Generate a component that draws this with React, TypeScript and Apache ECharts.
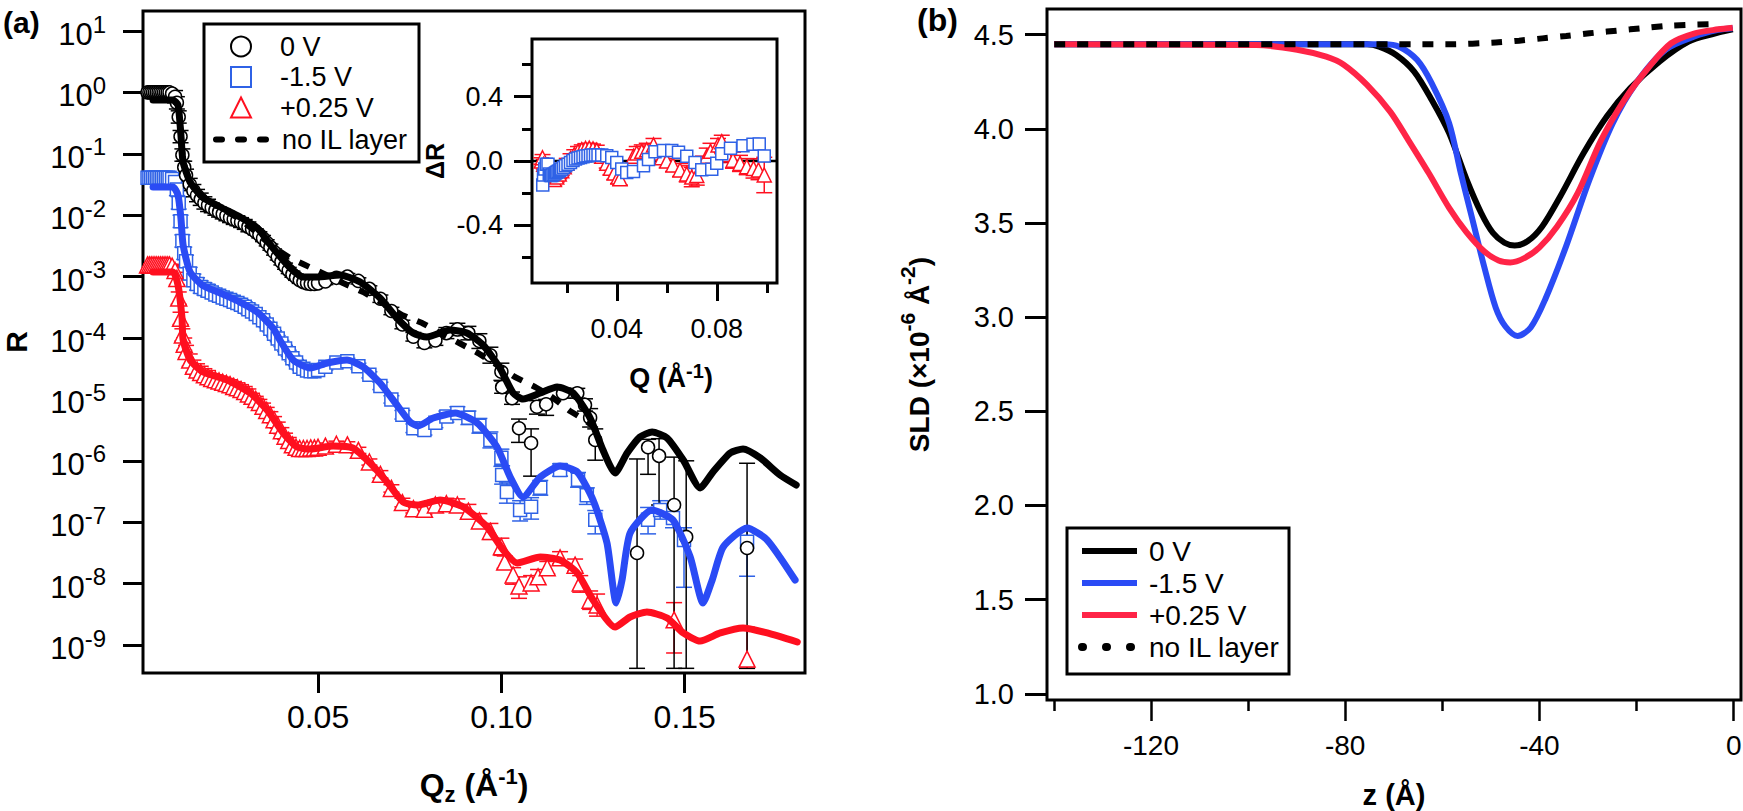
import * as echarts from 'echarts';
import { useEffect, useRef } from 'react';

const FONT = '"Liberation Sans", Arial, sans-serif';
const BLACK = '#000000';
const MARK_BLUE = '#2f62e6';
const MARK_RED = '#ff1020';
const FIT_BLUE = '#2a4bf5';
const FIT_RED = '#ff0f1f';
const SLD_RED = '#ff2447';

// ---- panel (a): reflectivity, R given as log10(R) ----
const qShared = [
  0.0035, 0.004, 0.0045, 0.005, 0.0055, 0.006, 0.0065, 0.007, 0.0075, 0.008, 0.0085, 0.009, 0.0095, 0.0102,
  0.011, 0.0115, 0.012, 0.0125, 0.013, 0.0135, 0.014, 0.015,
  0.016, 0.017, 0.018, 0.019, 0.02, 0.021, 0.022, 0.023, 0.024, 0.025, 0.026, 0.027,
  0.028, 0.029, 0.03, 0.031, 0.032, 0.033, 0.034, 0.035, 0.036, 0.037, 0.038, 0.039,
  0.04, 0.041, 0.042, 0.043, 0.044, 0.045, 0.046, 0.047, 0.048, 0.049, 0.05,
  0.052, 0.055, 0.058, 0.061, 0.064, 0.067, 0.07, 0.073, 0.076, 0.079, 0.082, 0.085, 0.088, 0.091, 0.094, 0.097, 0.1,
];
const errShared = [
  0.01, 0.01, 0.01, 0.01, 0.01, 0.01, 0.01, 0.01, 0.01, 0.01, 0.01, 0.01, 0.01, 0.01,
  0.1, 0.1, 0.1, 0.1, 0.1, 0.1, 0.1, 0.1,
  0.1, 0.1, 0.1, 0.1, 0.1, 0.08, 0.08, 0.08, 0.08, 0.08, 0.08, 0.08,
  0.08, 0.08, 0.08, 0.08, 0.05, 0.05, 0.05, 0.05, 0.05, 0.05, 0.05, 0.05,
  0.05, 0.05, 0.05, 0.05, 0.05, 0.05, 0.05, 0.05, 0.05, 0.05, 0.05,
  0.05, 0.05, 0.05, 0.05, 0.05, 0.06, 0.06, 0.07, 0.07, 0.08, 0.08, 0.09, 0.1, 0.11, 0.12, 0.13, 0.14,
];
const blackLow = [
  0, 0, 0, 0, 0, 0, 0, 0, 0, 0, 0, 0, 0, -0.02,
  -0.07, -0.17, -0.4, -0.72, -1.02, -1.22, -1.35, -1.5,
  -1.6, -1.68, -1.74, -1.8, -1.84, -1.88, -1.92, -1.95, -1.98, -2.01, -2.04, -2.07,
  -2.09, -2.12, -2.15, -2.19, -2.23, -2.27, -2.32, -2.38, -2.45, -2.52, -2.6, -2.68,
  -2.76, -2.83, -2.9, -2.96, -3.01, -3.06, -3.09, -3.11, -3.12, -3.12, -3.11,
  -3.08, -3.02, -3.0, -3.07, -3.2, -3.36, -3.56, -3.78, -3.98, -4.08, -4.04, -3.92, -3.86, -3.92, -4.05, -4.28, -4.55,
];
const blueLow = [
  -1.39, -1.39, -1.39, -1.39, -1.39, -1.39, -1.39, -1.39, -1.39, -1.39, -1.39, -1.39, -1.39, -1.41,
  -1.46, -1.58, -1.8, -2.1, -2.42, -2.62, -2.75, -2.95,
  -3.06, -3.12, -3.17, -3.2, -3.23, -3.26, -3.29, -3.31, -3.34, -3.36, -3.38, -3.41,
  -3.43, -3.46, -3.49, -3.53, -3.57, -3.61, -3.66, -3.71, -3.78, -3.85, -3.93, -4.01,
  -4.09, -4.17, -4.25, -4.33, -4.4, -4.47, -4.5, -4.53, -4.54, -4.54, -4.52,
  -4.47, -4.4, -4.38, -4.46, -4.6, -4.78, -5.0, -5.25, -5.47, -5.5, -5.38, -5.28, -5.22, -5.3, -5.43, -5.66, -5.95,
];
const redLow = [
  -2.81, -2.81, -2.81, -2.81, -2.81, -2.81, -2.81, -2.81, -2.81, -2.81, -2.81, -2.81, -2.81, -2.83,
  -2.9, -3.03, -3.35, -3.68, -3.95, -4.1, -4.22, -4.36,
  -4.46, -4.52, -4.56, -4.6, -4.63, -4.66, -4.68, -4.7, -4.72, -4.74, -4.76, -4.79,
  -4.81, -4.84, -4.87, -4.91, -4.95, -5.0, -5.05, -5.11, -5.18, -5.25, -5.33, -5.42,
  -5.51, -5.6, -5.67, -5.74, -5.78, -5.8, -5.8, -5.8, -5.79, -5.79, -5.78,
  -5.76, -5.73, -5.74, -5.83, -6.02, -6.22, -6.45, -6.68, -6.78, -6.79, -6.72, -6.7, -6.72, -6.82, -6.98, -7.15, -7.4,
];

const qBlackHigh = [0.1002, 0.1029, 0.1048, 0.1081, 0.1097, 0.1122, 0.1168, 0.1207, 0.1228, 0.1242, 0.1256, 0.137, 0.14, 0.143, 0.1471, 0.1504, 0.167];
const blackHigh = [-4.8, -4.98, -5.47, -5.71, -5.12, -5.08, -4.9, -4.9, -5.09, -5.3, -5.66, -7.5, -5.78, -5.92, -6.72, -7.24, -7.42];
const blackHighUp = [0.1, 0.1, 0.15, 0.23, 0.1, 0.08, 0.08, 0.08, 0.1, 0.15, 0.18, 1.53, 0.13, 0.28, 0.78, 1.24, 1.38];
const blackHighDown = [0.1, 0.1, 0.23, 0.54, 0.12, 0.18, 0.08, 0.08, 0.1, 0.15, 0.33, 1.88, 0.44, 0.8, 2.66, 2.14, 1.96];

const qBlueHigh = [0.1002, 0.1015, 0.1051, 0.1081, 0.1106, 0.116, 0.1209, 0.1233, 0.1256, 0.14, 0.1433, 0.1468, 0.1498, 0.167];
const blueHigh = [-6.23, -6.51, -6.8, -6.75, -6.44, -6.15, -6.31, -6.56, -6.96, -6.96, -6.8, -6.93, -7.29, -7.32];
const blueHighUp = [0.15, 0.15, 0.15, 0.15, 0.12, 0.1, 0.12, 0.12, 0.15, 0.2, 0.15, 0.2, 0.2, 0.2];
const blueHighDown = [0.15, 0.18, 0.18, 0.2, 0.12, 0.1, 0.12, 0.15, 0.23, 0.23, 0.15, 0.16, 0.77, 0.56];

const qRedHigh = [0.1009, 0.1032, 0.1048, 0.1081, 0.11, 0.1125, 0.116, 0.1201, 0.1215, 0.1242, 0.1261, 0.1471, 0.167];
const redHigh = [-7.65, -7.86, -8.04, -7.99, -7.89, -7.74, -7.58, -7.7, -7.99, -8.27, -8.35, -8.59, -9.23];
const redHighUp = [0.1, 0.12, 0.15, 0.12, 0.12, 0.1, 0.1, 0.1, 0.12, 0.15, 0.18, 0.28, 0.52];
const redHighDown = [0.1, 0.15, 0.2, 0.12, 0.12, 0.1, 0.1, 0.1, 0.15, 0.15, 0.18, 0.54, 0.15];

// fitted curves as [Q, log10 R]
const fitBlack = [
  [0.005, -0.124], [0.0104, -0.124], [0.0118, -0.205], [0.0126, -0.694], [0.0132, -1.133], [0.0151, -1.459],
  [0.0184, -1.703], [0.0233, -1.866], [0.0287, -2.029], [0.0334, -2.208], [0.0377, -2.534], [0.0424, -2.86],
  [0.0459, -3.007], [0.0497, -3.007], [0.056, -2.974], [0.0615, -3.088], [0.0669, -3.349], [0.0715, -3.674],
  [0.0759, -3.919], [0.0797, -3.984], [0.086, -3.87], [0.0906, -3.919], [0.095, -4.114], [0.0996, -4.489],
  [0.1032, -4.896], [0.1059, -4.994], [0.1106, -4.896], [0.1152, -4.798], [0.1196, -4.896], [0.1242, -5.303],
  [0.1277, -5.824], [0.131, -6.199], [0.1343, -5.873], [0.1378, -5.612], [0.1411, -5.531], [0.1452, -5.629],
  [0.1496, -5.987], [0.1542, -6.443], [0.1577, -6.182], [0.1624, -5.873], [0.1659, -5.808], [0.1706, -5.954],
  [0.176, -6.231], [0.1804, -6.394],
];
const fitBlue = [
  [0.005, -1.541], [0.0104, -1.541], [0.0118, -1.671], [0.0126, -2.046], [0.0132, -2.485], [0.0151, -2.925],
  [0.0184, -3.137], [0.0233, -3.267], [0.0287, -3.414], [0.0334, -3.577], [0.0377, -3.837], [0.0396, -4.033],
  [0.0432, -4.358], [0.0478, -4.489], [0.0525, -4.407], [0.0579, -4.358], [0.0623, -4.472], [0.0669, -4.733],
  [0.0715, -5.091], [0.0751, -5.368], [0.0773, -5.433], [0.0814, -5.303], [0.0874, -5.222], [0.0934, -5.384],
  [0.0988, -5.775], [0.1024, -6.264], [0.1059, -6.59], [0.1106, -6.264], [0.116, -6.085], [0.1207, -6.182],
  [0.125, -6.639], [0.1288, -7.339], [0.1313, -8.316], [0.1329, -7.941], [0.1351, -7.176], [0.1411, -6.801],
  [0.1468, -6.964], [0.1515, -7.567], [0.155, -8.316], [0.1575, -7.941], [0.1605, -7.404], [0.167, -7.094],
  [0.1725, -7.29], [0.1801, -7.941],
];
const fitRed = [
  [0.005, -2.925], [0.0104, -2.925], [0.0118, -3.137], [0.0129, -3.674], [0.0132, -4.033], [0.0151, -4.358],
  [0.0186, -4.554], [0.0252, -4.684], [0.0315, -4.896], [0.0361, -5.173], [0.0405, -5.547], [0.0443, -5.775],
  [0.0478, -5.808], [0.0541, -5.759], [0.0595, -5.791], [0.0642, -6.036], [0.0688, -6.345], [0.0732, -6.671],
  [0.077, -6.72], [0.0833, -6.639], [0.0896, -6.752], [0.0961, -7.078], [0.1005, -7.453], [0.1043, -7.665],
  [0.1106, -7.567], [0.116, -7.616], [0.1207, -7.827], [0.125, -8.267], [0.131, -8.707], [0.1351, -8.544],
  [0.1397, -8.463], [0.1452, -8.56], [0.1496, -8.804], [0.1542, -8.935], [0.1597, -8.804], [0.1659, -8.723],
  [0.1725, -8.804], [0.1807, -8.951],
];
const fitNoLayer = [
  [0.005, -0.124], [0.0104, -0.124], [0.0118, -0.205], [0.0126, -0.694], [0.0132, -1.133], [0.0151, -1.459],
  [0.0184, -1.703], [0.0233, -1.883], [0.0287, -2.062], [0.0334, -2.29], [0.0377, -2.518], [0.0424, -2.697],
  [0.0459, -2.795], [0.0511, -2.941], [0.0568, -3.104], [0.0623, -3.251], [0.0675, -3.43], [0.0729, -3.625],
  [0.0784, -3.756], [0.0833, -3.919], [0.0885, -4.081], [0.0936, -4.244], [0.0988, -4.44], [0.1037, -4.635],
  [0.1092, -4.798], [0.1138, -4.961], [0.1187, -5.189], [0.1228, -5.336], [0.1256, -5.466],
];

// ---- inset: delta R ----
const insetBlue = [
  [0.0104, -0.149], [0.0107, -0.087], [0.0112, -0.05], [0.0118, -0.02], [0.0125, -0.02], [0.013, -0.08], [0.0135, -0.09],
  [0.014, -0.09], [0.0145, -0.085], [0.015, -0.08], [0.0155, -0.075], [0.016, -0.07], [0.0165, -0.065], [0.017, -0.06],
  [0.0175, -0.055], [0.018, -0.05], [0.0187, -0.04], [0.0195, -0.03], [0.0205, -0.02], [0.0215, -0.01], [0.0225, 0.003],
  [0.0235, 0.012], [0.0245, 0.018], [0.0255, 0.022], [0.0265, 0.027], [0.0275, 0.031], [0.0285, 0.033], [0.0295, 0.035],
  [0.0305, 0.037], [0.0315, 0.037], [0.0325, 0.037], [0.034, 0.037], [0.036, 0.032], [0.038, 0.022], [0.04, -0.01],
  [0.042, -0.05], [0.044, -0.072], [0.0467, -0.066], [0.0507, -0.029], [0.0527, 0.01], [0.0553, 0.058], [0.0587, 0.066],
  [0.062, 0.066], [0.0647, 0.055], [0.068, 0.03], [0.0713, -0.01], [0.074, -0.054], [0.078, -0.052], [0.08, -0.014],
  [0.082, 0.045], [0.0855, 0.079], [0.0905, 0.095], [0.0945, 0.104], [0.097, 0.106], [0.099, 0.031],
];
const insetRed = [
  [0.0098, 0.0], [0.0103, 0.02], [0.0108, -0.02], [0.0115, -0.06], [0.012, -0.08], [0.013, -0.1], [0.014, -0.11],
  [0.015, -0.115], [0.016, -0.1], [0.017, -0.08], [0.018, -0.06], [0.019, -0.035], [0.02, -0.014], [0.0215, 0.015],
  [0.023, 0.04], [0.0245, 0.06], [0.026, 0.07], [0.0275, 0.078], [0.029, 0.08], [0.0305, 0.075], [0.032, 0.068],
  [0.034, 0.03], [0.036, -0.014], [0.0375, -0.045], [0.039, -0.075], [0.0405, -0.1], [0.0413, -0.11], [0.0467, 0.03],
  [0.048, 0.05], [0.05, 0.06], [0.052, 0.07], [0.0547, 0.1], [0.0565, 0.05], [0.058, 0.02], [0.06, 0.0], [0.0625, -0.025],
  [0.0653, -0.056], [0.068, -0.08], [0.07, -0.1], [0.072, -0.09], [0.0745, -0.02], [0.076, 0.03], [0.0775, 0.06],
  [0.0805, 0.1], [0.082, 0.12], [0.084, 0.04], [0.0865, 0.005], [0.0893, -0.015], [0.092, -0.035], [0.0947, -0.046],
  [0.0967, -0.056], [0.099, -0.087],
];
const insetRedErr = [
  0.02, 0.02, 0.03, 0.04, 0.04, 0.04, 0.04, 0.04, 0.03, 0.03, 0.03, 0.03, 0.03, 0.03,
  0.03, 0.03, 0.03, 0.03, 0.03, 0.03, 0.03, 0.03, 0.03, 0.04, 0.04, 0.04, 0.04, 0.04,
  0.04, 0.04, 0.04, 0.04, 0.04, 0.04, 0.04, 0.04,
  0.04, 0.05, 0.06, 0.06, 0.05, 0.05, 0.05,
  0.04, 0.04, 0.05, 0.05, 0.05, 0.05, 0.06, 0.06, 0.11,
];

// ---- panel (b): SLD profiles, [z, SLD] ----
const sldBlack = [
  [-139.9, 4.449], [-75.5, 4.449], [-73, 4.436], [-69.5, 4.392], [-65.8, 4.304], [-62.2, 4.154], [-58.6, 3.977], [-55, 3.73],
  [-52, 3.553], [-49.6, 3.448], [-47.2, 3.395], [-45.1, 3.38], [-42.4, 3.404], [-39.4, 3.483], [-35.7, 3.642], [-30.9, 3.871],
  [-26.1, 4.066], [-21.3, 4.216], [-15.3, 4.357], [-9.3, 4.463], [-4.5, 4.502], [-0.2, 4.528],
];
const sldBlue = [
  [-139.9, 4.449], [-72, 4.449], [-68.9, 4.436], [-65.2, 4.366], [-62.2, 4.242], [-58.6, 4.03], [-56.2, 3.765], [-53.8, 3.518],
  [-51.4, 3.27], [-49, 3.05], [-47, 2.95], [-44.5, 2.9], [-41.8, 2.945], [-38.8, 3.095], [-34.5, 3.377], [-29.7, 3.73],
  [-24.9, 4.03], [-20.1, 4.242], [-14.1, 4.419], [-8.1, 4.49], [-3.2, 4.525], [-0.2, 4.534],
];
const sldRed = [
  [-139.9, 4.449], [-98.3, 4.445], [-89.9, 4.42], [-83.9, 4.383], [-80.3, 4.34], [-75.5, 4.233], [-70.7, 4.09], [-67, 3.94],
  [-62.8, 3.765], [-58.6, 3.58], [-55, 3.45], [-51.4, 3.35], [-48.4, 3.3], [-46, 3.29], [-43, 3.315], [-40, 3.37], [-36.4, 3.48],
  [-32.1, 3.66], [-27.3, 3.94], [-22.5, 4.154], [-17.7, 4.32], [-12.9, 4.454], [-8, 4.507], [-3.2, 4.528], [-0.2, 4.537],
];
const sldNoLayer = [
  [-139.9, 4.449], [-58.6, 4.449], [-49, 4.458], [-44.2, 4.468], [-39.4, 4.48], [-34.5, 4.493], [-29.7, 4.507], [-26.1, 4.516],
  [-21.3, 4.528], [-12.9, 4.548], [-3.2, 4.556],
];

const logTicks = [-9, -8, -7, -6, -5, -4, -3, -2, -1, 0, 1];
const qTicks = [0.05, 0.1, 0.15];
const insetXMajor = [0.04, 0.08];
const insetXMinor = [0.02, 0.06, 0.1];
const insetYMajor = [-0.4, 0, 0.4];
const insetYMinor = [-0.6, -0.2, 0.2, 0.6];
const zMajor = [-120, -80, -40, 0];
const zMinor = [-140, -100, -60, -20];
const sldTicks = [1, 1.5, 2, 2.5, 3, 3.5, 4, 4.5];

const bars = (q: number[], r: number[], up: number[], down: number[]) => q.map((x, i) => [x, r[i] - down[i], r[i] + up[i]]);
const points = (q: number[], r: number[]) => q.map((x, i) => [x, r[i]]);

const errorBars = (name: string, data: number[][], color: string, x = 0, y = 0) => ({
  name,
  type: 'custom',
  xAxisIndex: x,
  yAxisIndex: y,
  clip: true,
  encode: { x: 0, y: [1, 2] },
  data,
  renderItem: (_: any, api: any) => {
    const q = api.value(0);
    const lo = api.coord([q, api.value(1)]);
    const hi = api.coord([q, api.value(2)]);
    const cap = 8;
    const shapes = [
      { x1: lo[0], y1: lo[1], x2: hi[0], y2: hi[1] },
      { x1: lo[0] - cap, y1: lo[1], x2: lo[0] + cap, y2: lo[1] },
      { x1: hi[0] - cap, y1: hi[1], x2: hi[0] + cap, y2: hi[1] },
    ];
    return {
      type: 'group',
      children: shapes.map((shape) => ({ type: 'line', shape, style: { stroke: color, lineWidth: 1.5 } })),
    };
  },
});

const markers = (name: string, data: number[][], symbol: string, size: number, color: string, x = 0, y = 0) => ({
  name,
  type: 'scatter',
  xAxisIndex: x,
  yAxisIndex: y,
  symbol,
  symbolSize: size,
  clip: true,
  itemStyle: { color: '#ffffff', borderColor: color, borderWidth: 1.5, opacity: 1 },
  data,
});

const fitLine = (name: string, data: number[][], color: string, width = 7) => ({
  name,
  type: 'line',
  symbol: 'none',
  smooth: 0.2,
  lineStyle: { color, width, cap: 'round' },
  itemStyle: { color },
  data,
});

const box = { color: '#000', width: 3 };
const noLine = { show: false, onZero: false };

function PanelA() {
  const chartRef = useRef<HTMLDivElement>(null);

  useEffect(() => {
    const chart = echarts.init(chartRef.current, null, { renderer: 'svg' });
    chart.setOption({
      animation: false,
      textStyle: { fontFamily: FONT, color: BLACK },
      grid: [
        { left: 143, top: 11, width: 662, height: 662, outerBoundsMode: 'none', show: true, borderColor: '#000', borderWidth: 3, backgroundColor: '#fff' },
        { left: 532, top: 39, width: 245, height: 244, outerBoundsMode: 'none', show: true, borderColor: '#000', borderWidth: 3, backgroundColor: '#fff', z: 3 },
      ],
      legend: [
        {
          left: 230,
          top: 33,
          orient: 'vertical',
          padding: 0,
          itemWidth: 20,
          itemHeight: 20,
          itemGap: 3.5,
          z: 8,
          selectedMode: false,
          textStyle: { fontFamily: FONT, fontSize: 27, color: BLACK, padding: [0, 0, 0, 24] },
          data: ['0 V', '-1.5 V', '+0.25 V'],
        },
        {
          left: 213,
          top: 126,
          orient: 'vertical',
          padding: 0,
          itemWidth: 56,
          itemHeight: 20,
          z: 8,
          selectedMode: false,
          itemStyle: { opacity: 0 },
          textStyle: { fontFamily: FONT, fontSize: 27, color: BLACK, padding: [0, 0, 0, 5] },
          data: [{ name: 'no IL layer', lineStyle: { type: [6, 16], cap: 'round', width: 6 } }],
        },
      ],
      xAxis: [
        {
          type: 'value', gridIndex: 0, min: 0.00226, max: 0.1828, position: 'bottom',
          name: '{b|Q}{sub|z}{b| (Å}{sup|-1}{b|)}',
          nameLocation: 'middle',
          nameGap: 92,
          nameTextStyle: {
            rich: {
              b: { fontFamily: FONT, fontSize: 32, fontWeight: 'bold', lineHeight: 40, verticalAlign: 'middle' },
              sub: { fontFamily: FONT, fontSize: 22, fontWeight: 'bold', lineHeight: 40, verticalAlign: 'bottom' },
              sup: { fontFamily: FONT, fontSize: 22, fontWeight: 'bold', lineHeight: 22, verticalAlign: 'top' },
            },
          },
          splitLine: { show: false },
          axisLine: noLine,
          axisTick: { customValues: qTicks, length: 20, lineStyle: box },
          axisLabel: { customValues: qTicks, margin: 28, fontFamily: FONT, fontSize: 32, color: BLACK, formatter: (v: number) => v.toFixed(2) },
        },
        {
          type: 'value', gridIndex: 1, min: 0.0061, max: 0.1041, position: 'bottom',
          name: '{b|Q (Å}{sup|-1}{b|)}',
          nameLocation: 'middle',
          nameGap: 78,
          nameTextStyle: {
            padding: [0, 0, 0, 33],
            rich: {
              b: { fontFamily: FONT, fontSize: 27, fontWeight: 'bold', lineHeight: 34, verticalAlign: 'middle' },
              sup: { fontFamily: FONT, fontSize: 20, fontWeight: 'bold', lineHeight: 20, verticalAlign: 'top' },
            },
          },
          splitLine: { show: false },
          axisLine: noLine,
          axisTick: { customValues: insetXMajor, length: 18, lineStyle: box },
          axisLabel: { customValues: insetXMajor, margin: 32, fontFamily: FONT, fontSize: 27, color: BLACK, formatter: (v: number) => v.toFixed(2) },
        },
        {
          type: 'value', gridIndex: 1, min: 0.0061, max: 0.1041, position: 'bottom',
          splitLine: { show: false },
          axisLine: noLine,
          axisTick: { customValues: insetXMinor, length: 10, lineStyle: box },
          axisLabel: { show: false },
        },
      ],
      yAxis: [
        {
          type: 'value', gridIndex: 0, min: -9.456, max: 1.326, position: 'left',
          name: 'R',
          nameLocation: 'middle',
          nameGap: 112,
          nameTextStyle: { fontFamily: FONT, fontSize: 30, fontWeight: 'bold', color: BLACK },
          splitLine: { show: false },
          axisLine: noLine,
          axisTick: { customValues: logTicks, length: 20, lineStyle: box },
          axisLabel: {
            customValues: logTicks,
            margin: 37,
            formatter: (v: number) => `{m|10}{s|${v}}`,
            rich: {
              m: { fontFamily: FONT, fontSize: 31, color: BLACK, lineHeight: 38, padding: [9, 0, 0, 0], verticalAlign: 'bottom' },
              s: { fontFamily: FONT, fontSize: 24, color: BLACK, lineHeight: 22, verticalAlign: 'top' },
            },
          },
        },
        {
          type: 'value', gridIndex: 1, min: -0.758, max: 0.758, position: 'left',
          name: 'ΔR',
          nameLocation: 'middle',
          nameGap: 85,
          nameTextStyle: { fontFamily: FONT, fontSize: 25, fontWeight: 'bold', color: BLACK },
          splitLine: { show: false },
          axisLine: noLine,
          axisTick: { customValues: insetYMajor, length: 18, lineStyle: box },
          axisLabel: { customValues: insetYMajor, margin: 29, fontFamily: FONT, fontSize: 27, color: BLACK, formatter: (v: number) => v.toFixed(1) },
        },
        {
          type: 'value', gridIndex: 1, min: -0.758, max: 0.758, position: 'left',
          splitLine: { show: false },
          axisLine: noLine,
          axisTick: { customValues: insetYMinor, length: 10, lineStyle: box },
          axisLabel: { show: false },
        },
      ],
      graphic: [
        { type: 'text', left: 3, top: 7, style: { text: '(a)', fontFamily: FONT, fontSize: 30, fontWeight: 'bold', fill: BLACK } },
        { type: 'rect', z: 7, shape: { x: 204, y: 24, width: 215, height: 138 }, style: { fill: '#fff', stroke: '#000', lineWidth: 3 } },
      ],
      series: [
        errorBars('blue err', [...bars(qShared, blueLow, errShared, errShared), ...bars(qBlueHigh, blueHigh, blueHighUp, blueHighDown)], MARK_BLUE),
        markers('-1.5 V', [...points(qShared, blueLow), ...points(qBlueHigh, blueHigh)], 'rect', 13, MARK_BLUE),
        errorBars('red err', [...bars(qShared, redLow, errShared, errShared), ...bars(qRedHigh, redHigh, redHighUp, redHighDown)], MARK_RED),
        markers('+0.25 V', [...points(qShared, redLow), ...points(qRedHigh, redHigh)], 'triangle', 16, MARK_RED),
        errorBars('black err', [...bars(qShared, blackLow, errShared, errShared), ...bars(qBlackHigh, blackHigh, blackHighUp, blackHighDown)], BLACK),
        markers('0 V', [...points(qShared, blackLow), ...points(qBlackHigh, blackHigh)], 'circle', 13, BLACK),
        fitLine('fit 0 V', fitBlack, BLACK),
        fitLine('fit -1.5 V', fitBlue, FIT_BLUE),
        fitLine('fit +0.25 V', fitRed, FIT_RED),
        {
          name: 'no IL layer',
          type: 'line',
          symbol: 'none',
          lineStyle: { color: BLACK, width: 6, type: [11, 11] },
          itemStyle: { color: BLACK },
          data: fitNoLayer,
        },
        // inset
        { name: 'zero', type: 'line', xAxisIndex: 1, yAxisIndex: 1, symbol: 'none', z: 4, lineStyle: { color: BLACK, width: 2.5 }, data: [[0.0061, 0], [0.1041, 0]] },
        { ...errorBars('inset red err', insetRed.map((p, i) => [p[0], p[1] - insetRedErr[i], p[1] + insetRedErr[i]]), MARK_RED, 1, 1), z: 4 },
        { ...markers('inset red', insetRed, 'triangle', 14, MARK_RED, 1, 1), z: 4 },
        { ...markers('inset blue', insetBlue, 'rect', 12, MARK_BLUE, 1, 1), z: 4 },
      ],
    });

    return () => {
      chart.dispose();
    };
  }, []);

  return <div ref={chartRef} style={{ position: 'absolute', left: 0, top: 0, width: 830, height: 811 }}></div>;
}

function PanelB() {
  const chartRef = useRef<HTMLDivElement>(null);

  useEffect(() => {
    const chart = echarts.init(chartRef.current, null, { renderer: 'svg' });
    chart.setOption({
      animation: false,
      textStyle: { fontFamily: FONT, color: BLACK },
      grid: { left: 217, top: 9, width: 694, height: 691, outerBoundsMode: 'none', show: true, borderColor: '#000', borderWidth: 3 },
      legend: {
        left: 248,
        top: 537,
        orient: 'vertical',
        padding: 0,
        itemWidth: 55,
        itemHeight: 20,
        itemGap: 4,
        z: 8,
        selectedMode: false,
        itemStyle: { opacity: 0 },
        textStyle: { fontFamily: FONT, fontSize: 28, color: BLACK, padding: [0, 0, 0, 7] },
        data: [
          { name: '0 V', lineStyle: { width: 6 } },
          { name: '-1.5 V', lineStyle: { width: 6 } },
          { name: '+0.25 V', lineStyle: { width: 6 } },
          { name: 'no IL layer', lineStyle: { type: [1, 23], cap: 'round', width: 8 } },
        ],
      },
      xAxis: [
        {
          type: 'value', min: -141.4, max: 1.5, position: 'bottom',
          name: 'z (Å)',
          nameLocation: 'middle',
          nameGap: 80,
          nameTextStyle: { fontFamily: FONT, fontSize: 29, fontWeight: 'bold', color: BLACK },
          splitLine: { show: false },
          axisLine: noLine,
          axisTick: { customValues: zMajor, length: 21, lineStyle: { color: '#000', width: 2.5 } },
          axisLabel: { customValues: zMajor, margin: 31, fontFamily: FONT, fontSize: 28, color: BLACK },
        },
        {
          type: 'value', min: -141.4, max: 1.5, position: 'bottom',
          splitLine: { show: false },
          axisLine: noLine,
          axisTick: { customValues: zMinor, length: 11, lineStyle: { color: '#000', width: 2.5 } },
          axisLabel: { show: false },
        },
      ],
      yAxis: {
        type: 'value', min: 0.967, max: 4.636, position: 'left',
        name: '{b|SLD (×10}{sup|-6}{b| Å}{sup|-2}{b|)}',
        nameLocation: 'middle',
        nameGap: 114,
        nameTextStyle: {
          rich: {
            b: { fontFamily: FONT, fontSize: 28, fontWeight: 'bold', lineHeight: 36, verticalAlign: 'bottom' },
            sup: { fontFamily: FONT, fontSize: 21, fontWeight: 'bold', lineHeight: 20, verticalAlign: 'top' },
          },
        },
        splitLine: { show: false },
        axisLine: noLine,
        axisTick: { customValues: sldTicks, length: 22, lineStyle: box },
        axisLabel: { customValues: sldTicks, margin: 33, fontFamily: FONT, fontSize: 29, color: BLACK, formatter: (v: number) => v.toFixed(1) },
      },
      graphic: [
        { type: 'text', left: 87, top: 4, style: { text: '(b)', fontFamily: FONT, fontSize: 32, fontWeight: 'bold', fill: BLACK } },
        { type: 'rect', z: 7, shape: { x: 237, y: 528, width: 222, height: 146 }, style: { fill: '#fff', stroke: '#000', lineWidth: 3 } },
      ],
      series: [
        { name: '0 V', type: 'line', symbol: 'none', smooth: 0.3, lineStyle: { color: BLACK, width: 6 }, itemStyle: { color: BLACK }, data: sldBlack },
        { name: '-1.5 V', type: 'line', symbol: 'none', smooth: 0.3, lineStyle: { color: FIT_BLUE, width: 6 }, itemStyle: { color: FIT_BLUE }, data: sldBlue },
        { name: '+0.25 V', type: 'line', symbol: 'none', smooth: 0.3, lineStyle: { color: SLD_RED, width: 6 }, itemStyle: { color: SLD_RED }, data: sldRed },
        { name: 'no IL layer', type: 'line', symbol: 'none', smooth: 0.3, lineStyle: { color: BLACK, width: 6, type: [11, 12] }, itemStyle: { color: BLACK }, data: sldNoLayer },
      ],
    });

    return () => {
      chart.dispose();
    };
  }, []);

  return <div ref={chartRef} style={{ position: 'absolute', left: 830, top: 0, width: 913, height: 811 }}></div>;
}

export default function App() {
  return (
    <div style={{ position: 'absolute', left: 0, top: 0, width: 1743, height: 811, background: '#fff' }}>
      <PanelA />
      <PanelB />
    </div>
  );
}
